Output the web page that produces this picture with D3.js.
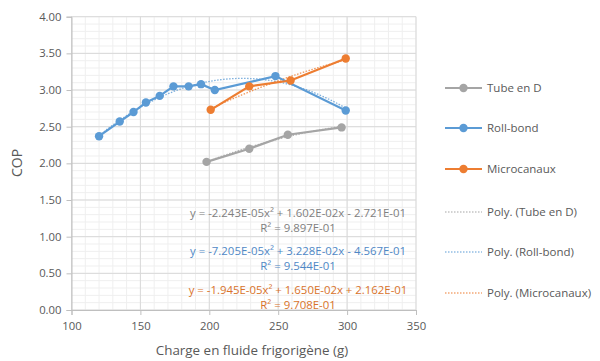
<!DOCTYPE html>
<html><head><meta charset="utf-8">
<script src="https://cdn.jsdelivr.net/npm/d3@7/dist/d3.min.js"></script>
<style>body{margin:0;background:#fff}svg{display:block;font-family:"Open Sans",sans-serif}</style>
</head><body><svg id="c" width="600" height="361"></svg>
<script>
const seriesNames = ["Tube en D", "Roll-bond", "Microcanaux"];
const tubeX = [198, 229, 257, 296];
const tubeY = [2.02, 2.20, 2.39, 2.49];
const rollX = [120, 135, 145, 154, 164, 174, 185, 194, 204, 248, 299];
const rollY = [2.37, 2.57, 2.70, 2.83, 2.92, 3.05, 3.05, 3.08, 3.00, 3.19, 2.72];
const microX = [201, 229, 259, 299];
const microY = [2.73, 3.05, 3.13, 3.43];
// trend coefficients (a, b, c) as shown in chart labels
const trendCoefs = [[-2.243e-5, 1.602e-2, -2.721e-1], [-7.205e-5, 3.228e-2, -4.567e-1], [-1.945e-5, 1.650e-2, 2.162e-1]];
const eqLabels = ["y = -2.243E-05x\u00b2 + 1.602E-02x - 2.721E-01", "y = -7.205E-05x\u00b2 + 3.228E-02x - 4.567E-01", "y = -1.945E-05x\u00b2 + 1.650E-02x + 2.162E-01"];
const r2Labels = ["R\u00b2 = 9.897E-01", "R\u00b2 = 9.544E-01", "R\u00b2 = 9.708E-01"];
const xTicks = [100, 150, 200, 250, 300, 350];
const yTicks = [0, 0.5, 1, 1.5, 2, 2.5, 3, 3.5, 4];
const colors = ["#a5a5a5", "#5b9bd5", "#ed7d31"];
const textColors = ["#808080", "#4f88c6", "#d9732b"];

const svg = d3.select("#c");
const L = 71.5, R = 416, T = 16.7, B = 310;
const x = d3.scaleLinear().domain([100, 350]).range([L, R]);
const y = d3.scaleLinear().domain([0, 4]).range([B, T]);

// minor grid
const g = svg.append("g");
g.selectAll(".mx").data(d3.range(100, 351, 10)).join("line")
  .attr("x1", d => x(d)).attr("x2", d => x(d)).attr("y1", T).attr("y2", B)
  .attr("stroke", "#efefef").attr("stroke-width", 1);
g.selectAll(".my").data(d3.range(0, 41, 1).map(v => v / 10)).join("line")
  .attr("y1", d => y(d)).attr("y2", d => y(d)).attr("x1", L).attr("x2", R)
  .attr("stroke", "#efefef").attr("stroke-width", 1);
// major grid
g.selectAll(".Mx").data(xTicks).join("line")
  .attr("x1", d => x(d)).attr("x2", d => x(d)).attr("y1", T).attr("y2", B)
  .attr("stroke", "#d9d9d9").attr("stroke-width", 1);
g.selectAll(".My").data(yTicks).join("line")
  .attr("y1", d => y(d)).attr("y2", d => y(d)).attr("x1", L).attr("x2", R)
  .attr("stroke", "#d9d9d9").attr("stroke-width", 1);

// axes
const xa = svg.append("g").attr("transform", `translate(0,${B})`)
  .call(d3.axisBottom(x).tickValues(xTicks).tickSize(5).tickPadding(7).tickFormat(d3.format("d")));
const ya = svg.append("g").attr("transform", `translate(${L},0)`)
  .call(d3.axisLeft(y).tickValues(yTicks).tickSize(5).tickPadding(5).tickFormat(d3.format(".2f")));
[xa, ya].forEach(a => {
  a.select(".domain").attr("stroke", "#bfbfbf");
  a.selectAll(".tick line").attr("stroke", "#bfbfbf");
  a.selectAll("text").attr("fill", "#595959").style("font-size", "11.3px").style("font-family", "Open Sans");
});

// trendlines
const xsList = [tubeX, rollX, microX];
const ysList = [tubeY, rollY, microY];
trendCoefs.forEach((c, i) => {
  const xs = xsList[i];
  const pts = d3.range(0, 101).map(k => {
    const xv = d3.min(xs) + (d3.max(xs) - d3.min(xs)) * k / 100;
    return [xv, c[0] * xv * xv + c[1] * xv + c[2]];
  });
  svg.append("path").datum(pts)
    .attr("d", d3.line().x(d => x(d[0])).y(d => y(d[1])))
    .attr("fill", "none").attr("stroke", colors[i]).attr("stroke-width", 1.3)
    .attr("stroke-dasharray", "1.5,1.5").attr("opacity", 0.8);
});

// series
seriesNames.forEach((n, i) => {
  const pts = xsList[i].map((v, k) => [v, ysList[i][k]]);
  svg.append("path").datum(pts)
    .attr("d", d3.line().x(d => x(d[0])).y(d => y(d[1])))
    .attr("fill", "none").attr("stroke", colors[i]).attr("stroke-width", 2.2);
  svg.append("g").selectAll("circle").data(pts).join("circle")
    .attr("cx", d => x(d[0])).attr("cy", d => y(d[1])).attr("r", 4.2)
    .attr("fill", colors[i]);
});

// equation labels
const eqY = [[217, 232], [255, 270], [294, 309]];
eqLabels.forEach((t, i) => {
  svg.append("text").attr("x", 298).attr("y", eqY[i][0]).attr("text-anchor", "middle")
    .attr("fill", textColors[i]).style("font-size", "11.4px").text(t);
  svg.append("text").attr("x", 298).attr("y", eqY[i][1]).attr("text-anchor", "middle")
    .attr("fill", textColors[i]).style("font-size", "11.4px").text(r2Labels[i]);
});

// axis titles
svg.append("text").attr("transform", "translate(22,163) rotate(-90)").attr("text-anchor", "middle")
  .attr("fill", "#595959").style("font-size", "14px").text("COP");
svg.append("text").attr("x", 252).attr("y", 355).attr("text-anchor", "middle")
  .attr("fill", "#595959").style("font-size", "13.4px").text("Charge en fluide frigorigène (g)");

// legend
const legY = [88, 128, 169, 212, 252, 293];
const legNames = seriesNames.concat(seriesNames.map(n => `Poly. (${n})`));
legNames.forEach((n, k) => {
  const i = k % 3, poly = k >= 3;
  const gy = legY[k];
  svg.append("line").attr("x1", 445).attr("x2", 482).attr("y1", gy).attr("y2", gy)
    .attr("stroke", colors[i]).attr("stroke-width", poly ? 1.2 : 2.2)
    .attr("stroke-dasharray", poly ? "1.5,1.5" : null);
  if (!poly) svg.append("circle").attr("cx", 463.5).attr("cy", gy).attr("r", 4.2).attr("fill", colors[i]);
  svg.append("text").attr("x", 487).attr("y", gy + 4).attr("fill", "#595959")
    .style("font-size", "11.5px").text(n);
});
</script></body></html>
